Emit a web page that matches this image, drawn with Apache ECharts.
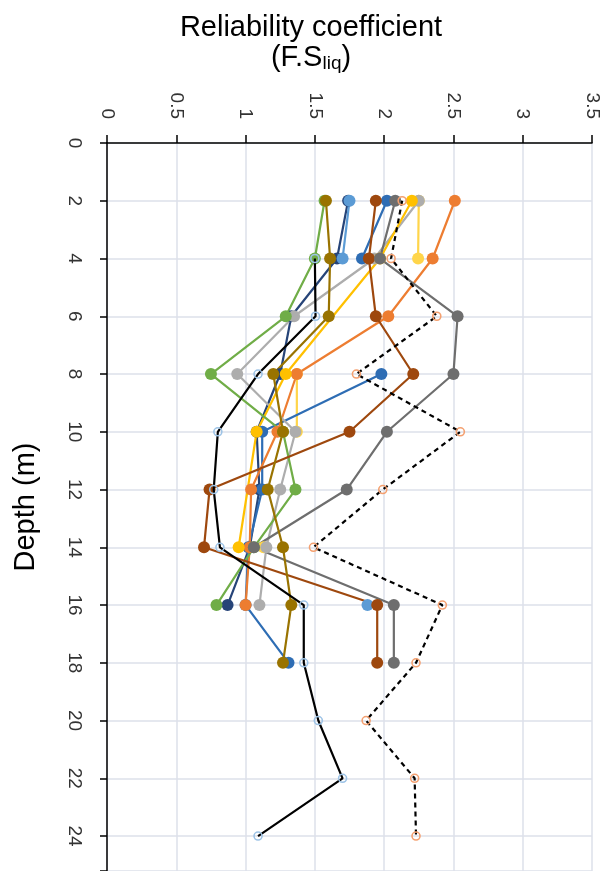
<!DOCTYPE html>
<html>
<head>
<meta charset="utf-8">
<script src="https://cdn.jsdelivr.net/npm/echarts@6/dist/echarts.min.js"></script>
<style>
  html, body { margin: 0; padding: 0; background: #fff; }
  #chart { width: 605px; height: 871px; }
</style>
</head>
<body>
<div id="chart"></div>
<script>
// depth of each reading (m)
var depths = [2, 4, 6, 8, 10, 12, 14, 16, 18, 20, 22, 24];
var xTicks = [0, 0.5, 1, 1.5, 2, 2.5, 3, 3.5];

// reliability coefficient per depth, null = no reading
var sBlue      = [2.02, 1.84, null, 1.98, 1.12, 1.12, 1.02, 1.00, 1.31, null, null, null];
var sOrange    = [2.51, 2.35, 2.03, 1.37, 1.23, 1.04, 1.03, 1.00, null, null, null, null];
var sGold2     = [2.25, 2.245, null, 1.37, 1.37, null, 1.13, null, null, null, null, null];
var sLightGray = [2.25, 1.93, 1.35, 0.94, 1.36, 1.25, 1.15, 1.10, null, null, null, null];
var sYellow    = [2.20, 1.97, null, 1.29, 1.08, null, 0.95, null, null, null, null, null];
var sLightBlue = [1.75, 1.70, null, null, null, null, null, 1.88, null, null, null, null];
var sGreen     = [1.57, 1.50, 1.29, 0.75, 1.27, 1.36, 1.06, 0.79, null, null, null, null];
var sNavy      = [1.74, 1.66, 1.33, 1.25, 1.08, 1.10, 1.03, 0.87, null, null, null, null];
var sBrown     = [1.94, 1.89, 1.94, 2.21, 1.75, 0.74, 0.70, 1.95, 1.95, null, null, null];
var sDarkGray  = [2.08, 1.97, 2.53, 2.50, 2.02, 1.73, 1.06, 2.07, 2.07, null, null, null];
var sDarkGold  = [1.58, 1.61, 1.60, 1.20, 1.27, 1.16, 1.27, 1.33, 1.27, null, null, null];
var sBlack     = [null, 1.50, 1.505, 1.09, 0.80, 0.77, 0.815, 1.42, 1.42, 1.525, 1.70, 1.09];
var sDashed    = [2.13, 2.05, 2.38, 1.80, 2.55, 1.99, 1.49, 2.42, 2.23, 1.87, 2.22, 2.23];

var FONT = "'Liberation Sans', Arial, sans-serif";

function pairs(vals) {
	return depths.map(function(d, i) {
		return [vals[i] == null ? '-' : vals[i], d];
	});
}

// filled marker series
function filled(vals, color, joinGaps) {
	return {
		type: 'line',
		data: pairs(vals),
		connectNulls: !!joinGaps,
		symbol: 'circle',
		symbolSize: 12,
		itemStyle: { color: color },
		lineStyle: { color: color, width: 2.2 },
		z: 2
	};
}

// open marker series with black line
function open(vals, ring, dashed) {
	return {
		type: 'line',
		data: pairs(vals),
		symbol: 'circle',
		symbolSize: 8,
		itemStyle: { color: 'rgba(0,0,0,0)', borderColor: ring, borderWidth: 1.6 },
		lineStyle: { color: '#000', width: 2.2, type: dashed ? [5, 4] : 'solid' },
		z: 3
	};
}

var chart = echarts.init(document.getElementById('chart'));

chart.setOption({
	animation: false,
	backgroundColor: '#fff',
	title: {
		text: '{a|Reliability coefficient}\n{a|(F.S}{s|liq}{a|)}',
		left: 311,
		top: 13,
		padding: 0,
		textAlign: 'center',
		textStyle: {
			fontFamily: FONT,
			fontSize: 29,
			fontWeight: 'normal',
			color: '#000',
			rich: {
				a: { fontFamily: FONT, fontSize: 29, lineHeight: 30, color: '#000' },
				s: { fontFamily: FONT, fontSize: 19, lineHeight: 2, verticalAlign: 'bottom', color: '#000' }
			}
		}
	},
	grid: {
		left: 107,
		top: 143,
		width: 485,
		bottom: 0,
		outerBoundsMode: 'none'
	},
	xAxis: {
		type: 'value',
		position: 'top',
		min: xTicks[0],
		max: xTicks[xTicks.length - 1],
		interval: 0.5,
		axisLine: { show: true, lineStyle: { color: '#000', width: 1.5 } },
		axisTick: { show: true, length: 8, lineStyle: { color: '#000', width: 1.5 } },
		axisLabel: {
			rotate: -90,
			margin: 24,
			fontFamily: FONT,
			fontSize: 19,
			color: '#333'
		},
		splitLine: { show: true, lineStyle: { color: '#DCE1EA', width: 1.5 } }
	},
	yAxis: {
		type: 'value',
		inverse: true,
		min: 0,
		max: 25.21,
		interval: 2,
		name: 'Depth (m)',
		nameLocation: 'middle',
		nameRotate: 90,
		nameGap: 67,
		nameTextStyle: { fontFamily: FONT, fontSize: 29, color: '#000' },
		axisLine: { show: true, lineStyle: { color: '#000', width: 1.5 } },
		axisTick: { show: true, length: 7, lineStyle: { color: '#000', width: 1.5 } },
		axisLabel: {
			rotate: -90,
			margin: 23,
			fontFamily: FONT,
			fontSize: 19,
			color: '#333',
			formatter: function(v) { return v % 2 === 0 ? String(v) : ''; }
		},
		splitLine: { show: true, lineStyle: { color: '#DCE1EA', width: 1.5 } }
	},
	series: [
		filled(sNavy, '#264478'),
		filled(sLightBlue, '#5B9BD5'),
		filled(sGold2, '#FFD54A'),
		filled(sBlue, '#2E6DB4'),
		filled(sOrange, '#ED7D31'),
		filled(sLightGray, '#ADADAD'),
		filled(sYellow, '#FFC000', true),
		filled(sGreen, '#70AD47'),
		filled(sBrown, '#9E480E'),
		filled(sDarkGray, '#6E6E6E'),
		filled(sDarkGold, '#997300'),
		open(sBlack, '#9DC3E6', false),
		open(sDashed, '#F4A070', true)
	]
});
</script>
</body>
</html>
